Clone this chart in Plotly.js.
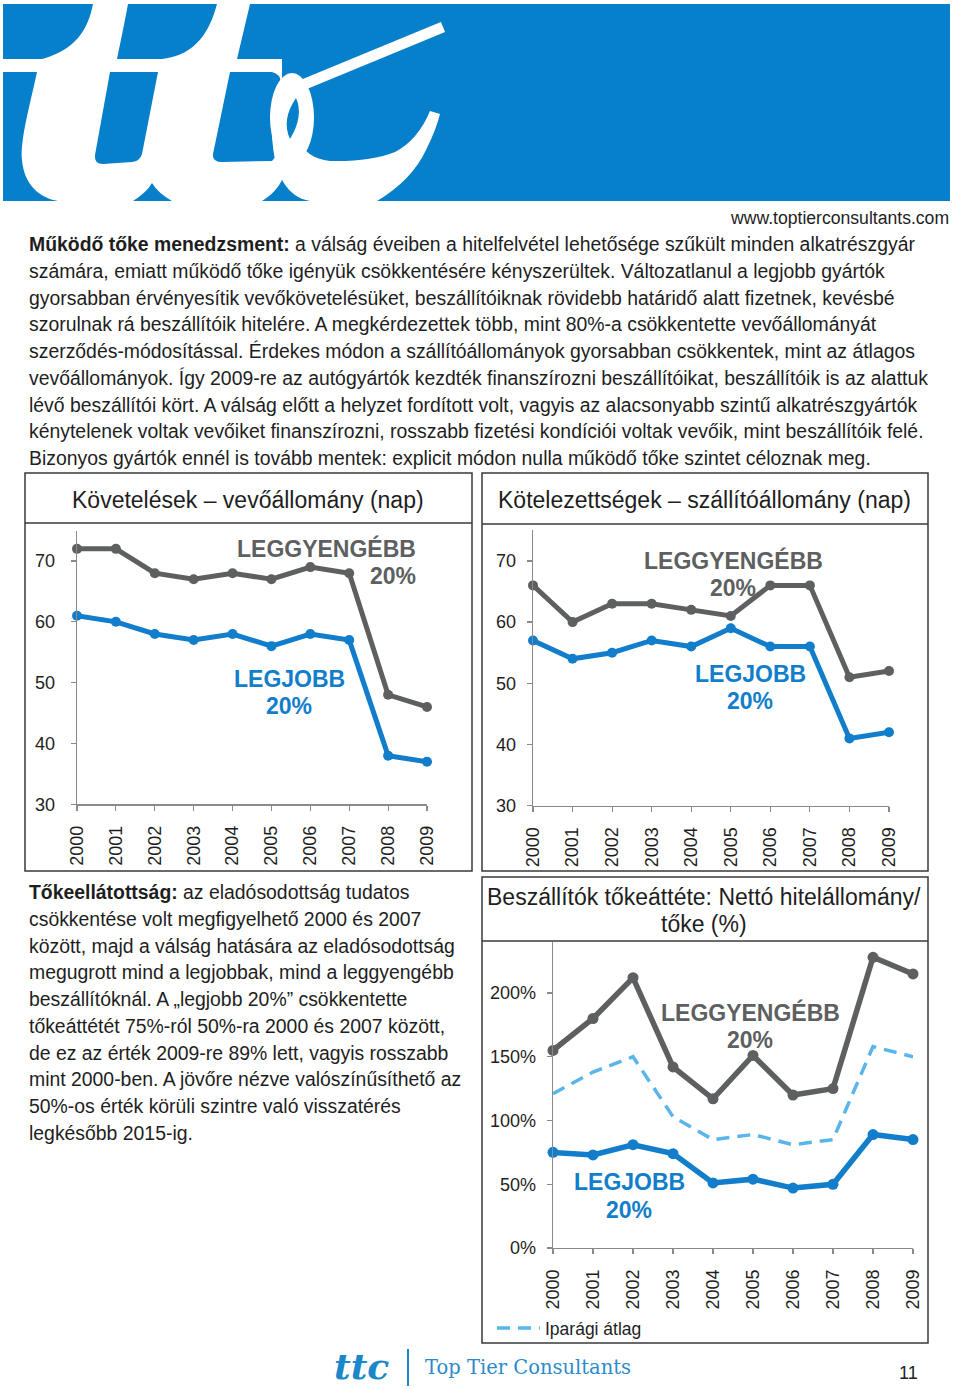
<!DOCTYPE html>
<html>
<head>
<meta charset="utf-8">
<script src="https://cdn.plot.ly/plotly-3.0.1.min.js"></script>
<style>
html,body{margin:0;padding:0;background:#fff;}
#page{width:960px;height:1389px;}
</style>
</head>
<body>
<div id="page"></div>
<script>
// ---------------- DATA ----------------
const years = [2000, 2001, 2002, 2003, 2004, 2005, 2006, 2007, 2008, 2009];
const yearLabels = ["2000", "2001", "2002", "2003", "2004", "2005", "2006", "2007", "2008", "2009"];

// Követelések – vevőállomány (nap)
const recvWorst = [72, 72, 68, 67, 68, 67, 69, 68, 48, 46];
const recvBest  = [61, 60, 58, 57, 58, 56, 58, 57, 38, 37];

// Kötelezettségek – szállítóállomány (nap)
const payWorst = [66, 60, 63, 63, 62, 61, 66, 66, 51, 52];
const payBest  = [57, 54, 55, 57, 56, 59, 56, 56, 41, 42];

// Beszállítók tőkeáttéte (%)
const levWorst = [155, 180, 212, 142, 117, 151, 120, 125, 228, 215];
const levAvg   = [121, 138, 150, 103, 85, 89, 81, 85, 158, 150];
const levBest  = [75, 73, 81, 74, 51, 54, 47, 50, 89, 85];

const dayTicks = [30, 40, 50, 60, 70];
const pctTicks = [0, 50, 100, 150, 200];
const pctLabels = ["0%", "50%", "100%", "150%", "200%"];

const titles = {
  recv: "Követelések – vevőállomány (nap)",
  pay: "Kötelezettségek – szállítóállomány (nap)",
  lev1: "Beszállítók tőkeáttéte: Nettó hitelállomány/",
  lev2: "tőke (%)"
};
const labelWorst = "LEGGYENGÉBB";
const labelBest = "LEGJOBB";
const label20 = "20%";
const legendAvg = "Iparági átlag";

const topParagraph = [
  "<b>Működő tőke menedzsment:</b> a válság éveiben a hitelfelvétel lehetősége szűkült minden alkatrészgyár",
  "számára, emiatt működő tőke igényük csökkentésére kényszerültek. Változatlanul a legjobb gyártók",
  "gyorsabban érvényesítik vevőkövetelésüket, beszállítóiknak rövidebb határidő alatt fizetnek, kevésbé",
  "szorulnak rá beszállítóik hitelére. A megkérdezettek több, mint 80%-a csökkentette vevőállományát",
  "szerződés-módosítással. Érdekes módon a szállítóállományok gyorsabban csökkentek, mint az átlagos",
  "vevőállományok. Így 2009-re az autógyártók kezdték finanszírozni beszállítóikat, beszállítóik is az alattuk",
  "lévő beszállítói kört. A válság előtt a helyzet fordított volt, vagyis az alacsonyabb szintű alkatrészgyártók",
  "kénytelenek voltak vevőiket finanszírozni, rosszabb fizetési kondíciói voltak vevőik, mint beszállítóik felé.",
  "Bizonyos gyártók ennél is tovább mentek: explicit módon nulla működő tőke szintet céloznak meg."
];
const leftParagraph = [
  "<b>Tőkeellátottság:</b> az eladósodottság tudatos",
  "csökkentése volt megfigyelhető 2000 és 2007",
  "között, majd a válság hatására az eladósodottság",
  "megugrott mind a legjobbak, mind a leggyengébb",
  "beszállítóknál. A „legjobb 20%” csökkentette",
  "tőkeáttétét 75%-ról 50%-ra 2000 és 2007 között,",
  "de ez az érték 2009-re 89% lett, vagyis rosszabb",
  "mint 2000-ben. A jövőre nézve valószínűsíthető az",
  "50%-os érték körüli szintre való visszatérés",
  "legkésőbb 2015-ig."
];
const website = "www.toptierconsultants.com";
const brand = "Top Tier Consultants";
const pageNo = "11";

// ---------------- STYLE ----------------
const W = 960, H = 1389;
const FONT = "Liberation Sans, Arial, Helvetica, sans-serif";
const GRAY = "#5d5f61";
const BLUE = "#127ecb";
const LBLUE = "#5ab5ec";
const AXIS = "#8a8a8a";
const TXT = "#1e1e1e";
const BANNER = "#0780cc";

const px = (a, b) => [a / W, b / W];
const py = (top, bottom) => [1 - bottom / H, 1 - top / H];

function lineAxis(extra) {
  return Object.assign({
    showgrid: false, zeroline: false, showline: true,
    linecolor: AXIS, linewidth: 1.3,
    ticks: "outside", ticklen: 5, tickwidth: 1.2, tickcolor: AXIS,
    tickfont: {family: FONT, size: 18, color: TXT},
    fixedrange: true
  }, extra);
}
function xAx(dom, anchor) {
  return lineAxis({domain: dom, anchor: anchor, range: [years[0], years[years.length - 1]],
    tickvals: years, ticktext: yearLabels, tickangle: -90, ticklabelstandoff: 8});
}

function series(x, y, color, xa, ya, w, ms) {
  return {x: x, y: y, xaxis: xa, yaxis: ya, mode: "lines+markers", cliponaxis: false,
    line: {color: color, width: w}, marker: {color: color, size: ms},
    showlegend: false, hoverinfo: "skip"};
}

const data = [
  series(years, recvWorst, GRAY, "x", "y", 5, 10),
  series(years, recvBest, BLUE, "x", "y", 5, 10),
  series(years, payWorst, GRAY, "x2", "y2", 5, 10),
  series(years, payBest, BLUE, "x2", "y2", 5, 10),
  {x: years, y: levAvg, xaxis: "x3", yaxis: "y3", mode: "lines", name: legendAvg,
   line: {color: LBLUE, width: 3.5, dash: "13px,8px"}, showlegend: true, hoverinfo: "skip", cliponaxis: false},
  series(years, levWorst, GRAY, "x3", "y3", 5.5, 11),
  series(years, levBest, BLUE, "x3", "y3", 5.5, 11),
  {x: [], y: [], xaxis: "x4", yaxis: "y4", showlegend: false, hoverinfo: "skip"}
];

// ---------------- OVERLAY (page pixels) ----------------
const shapes = [];
const ann = [];
function rectShape(x0, y0, x1, y1, fill, lineColor, lw) {
  shapes.push({type: "rect", xref: "x4", yref: "y4", x0: x0, y0: y0, x1: x1, y1: y1,
    fillcolor: fill || "rgba(0,0,0,0)", line: {color: lineColor || "rgba(0,0,0,0)", width: lw || 0}});
}
function pathShape(p, fill) {
  shapes.push({type: "path", xref: "x4", yref: "y4", path: p, fillcolor: fill, line: {width: 0}});
}
function lineShape(x0, y0, x1, y1, color, w) {
  shapes.push({type: "line", xref: "x4", yref: "y4", x0: x0, y0: y0, x1: x1, y1: y1, line: {color: color, width: w}});
}
function text(t, x, y, size, opts) {
  ann.push(Object.assign({xref: "x4", yref: "y4", x: x, y: y, text: t, showarrow: false,
    xanchor: "left", yanchor: "middle", font: {family: FONT, size: size, color: TXT}}, opts || {}));
}

// Banner logo
rectShape(3, 4, 950, 201, BANNER);
rectShape(3, 4, 250, 59, "#ffffff");
rectShape(3, 59, 282, 201, "#ffffff");
pathShape("M3,4 L93,4 C88,30 75,50 42,59 L3,59 Z", BANNER);
pathShape("M128,4 L217,4 C210,30 197,55 162,59 L117,59 C121,40 125,20 128,4 Z", BANNER);
pathShape("M250,4 L237,59 L251,59 Z", BANNER);
pathShape("M3,72 L37,72 C30,105 20,140 22,160 C24,185 40,198 58,201 L3,201 Z", BANNER);
pathShape("M110,72 L158,72 L142,154 Q140,161 132,162 L103,164 Q94,164 95,155 Z", BANNER);
pathShape("M133,201 Q147,192 152,183 Q158,193 172,201 Z", BANNER);
pathShape("M230,72 L272,72 Q283,75 280,86 Q266,120 276,156 L272,161 L222,162 Q212,162 213,154 Z", BANNER);
pathShape("M262,201 Q280,190 285,172 Q292,192 300,201 Z", BANNER);
shapes.push({type: "circle", xref: "x4", yref: "y4", x0: 270, x1: 314, y0: 73, y1: 162,
  fillcolor: "#ffffff", line: {width: 0}});
pathShape("M272,135 Q275,195 310,201 L377,201 Q412,180 426,150 Q436,130 440,114 L430,111 Q418,140 395,152 Q370,162 330,161 Q305,158 300,140 Z", "#ffffff");
lineShape(443, 27, 300, 86, "#ffffff", 11);
pathShape("M296,98 Q304,116 290,139 Q281,120 296,98 Z", BANNER);

text(website, 951, 218, 17.6, {xanchor: "right"});

// top paragraph
const topY0 = 244, lh = 26.75;
topParagraph.forEach((t, i) => text(t, 27, topY0 + i * lh, 19.4));

// left paragraph
const leftY0 = 892;
leftParagraph.forEach((t, i) => text(t, 27, leftY0 + i * lh, 19.4));

// chart boxes
rectShape(25, 473, 472, 871, null, "#3a3a3a", 1.5);
lineShape(25, 523, 472, 523, "#3a3a3a", 1.5);
rectShape(482, 473, 928, 871, null, "#3a3a3a", 1.5);
lineShape(482, 524, 928, 524, "#3a3a3a", 1.5);
rectShape(482, 877, 928, 1343, null, "#3a3a3a", 1.5);
lineShape(482, 941, 928, 941, "#3a3a3a", 1.5);

// chart titles
text(titles.recv, 248, 500, 23, {xanchor: "center"});
text(titles.pay, 704, 500, 23, {xanchor: "center"});
text(titles.lev1, 704, 897, 23, {xanchor: "center"});
text(titles.lev2, 704, 924, 23, {xanchor: "center"});

// in-chart labels
function bold(t, x, y, color, anchor) {
  text("<b>" + t + "</b>", x, y, 23, {xanchor: anchor || "center", font: {family: FONT, size: 23, color: color}});
}
bold(labelWorst, 418, 548, GRAY, "right");
bold(label20, 418, 576, GRAY, "right");
bold(labelBest, 289, 679, BLUE);
bold(label20, 289, 706, BLUE);

bold(labelWorst, 733, 560, GRAY);
bold(label20, 733, 588, GRAY);
bold(labelBest, 750, 674, BLUE);
bold(label20, 750, 701, BLUE);

bold(labelWorst, 750, 1012, GRAY);
bold(label20, 750, 1040, GRAY);
bold(labelBest, 629, 1182, BLUE);
bold(label20, 629, 1210, BLUE);

// footer
text("<b><i>ttc</i></b>", 361, 1366, 36, {xanchor: "center", font: {family: "DejaVu Serif, serif", size: 36, color: "#1a87c9"}});
lineShape(408, 1349, 408, 1386, "#1a87c9", 2);
text(brand, 423, 1367, 19.5, {font: {family: "DejaVu Serif, serif", size: 19.5, color: "#2b8bcb"}});
text(pageNo, 908, 1373, 18, {xanchor: "center"});

const layout = {
  width: W, height: H,
  margin: {l: 0, r: 0, t: 0, b: 0, pad: 0},
  paper_bgcolor: "#ffffff", plot_bgcolor: "rgba(0,0,0,0)",
  font: {family: FONT, color: TXT},
  showlegend: true,
  legend: {x: 492 / W, y: 1 - 1328 / H, xanchor: "left", yanchor: "middle",
    bgcolor: "rgba(0,0,0,0)", borderwidth: 0, font: {family: FONT, size: 17.5, color: TXT},
    itemwidth: 43},
  xaxis: xAx(px(77, 427), "y"),
  yaxis: lineAxis({domain: py(530.6, 804.3), anchor: "x", range: [30, 75], tickvals: dayTicks, ticklabelstandoff: 12}),
  xaxis2: xAx(px(533, 889), "y2"),
  yaxis2: lineAxis({domain: py(530.3, 805.7), anchor: "x2", range: [30, 75], tickvals: dayTicks, ticklabelstandoff: 7}),
  xaxis3: xAx(px(553, 913), "y3"),
  yaxis3: lineAxis({domain: py(942, 1248), anchor: "x3", range: [0, 240], tickvals: pctTicks, ticktext: pctLabels, ticklabelstandoff: 7}),
  xaxis4: {domain: [0, 1], range: [0, W], visible: false, fixedrange: true, anchor: "y4"},
  yaxis4: {domain: [0, 1], range: [H, 0], visible: false, fixedrange: true, anchor: "x4"},
  shapes: shapes,
  annotations: ann
};

Plotly.newPlot("page", data, layout, {staticPlot: true, displayModeBar: false});
</script>
</body>
</html>
